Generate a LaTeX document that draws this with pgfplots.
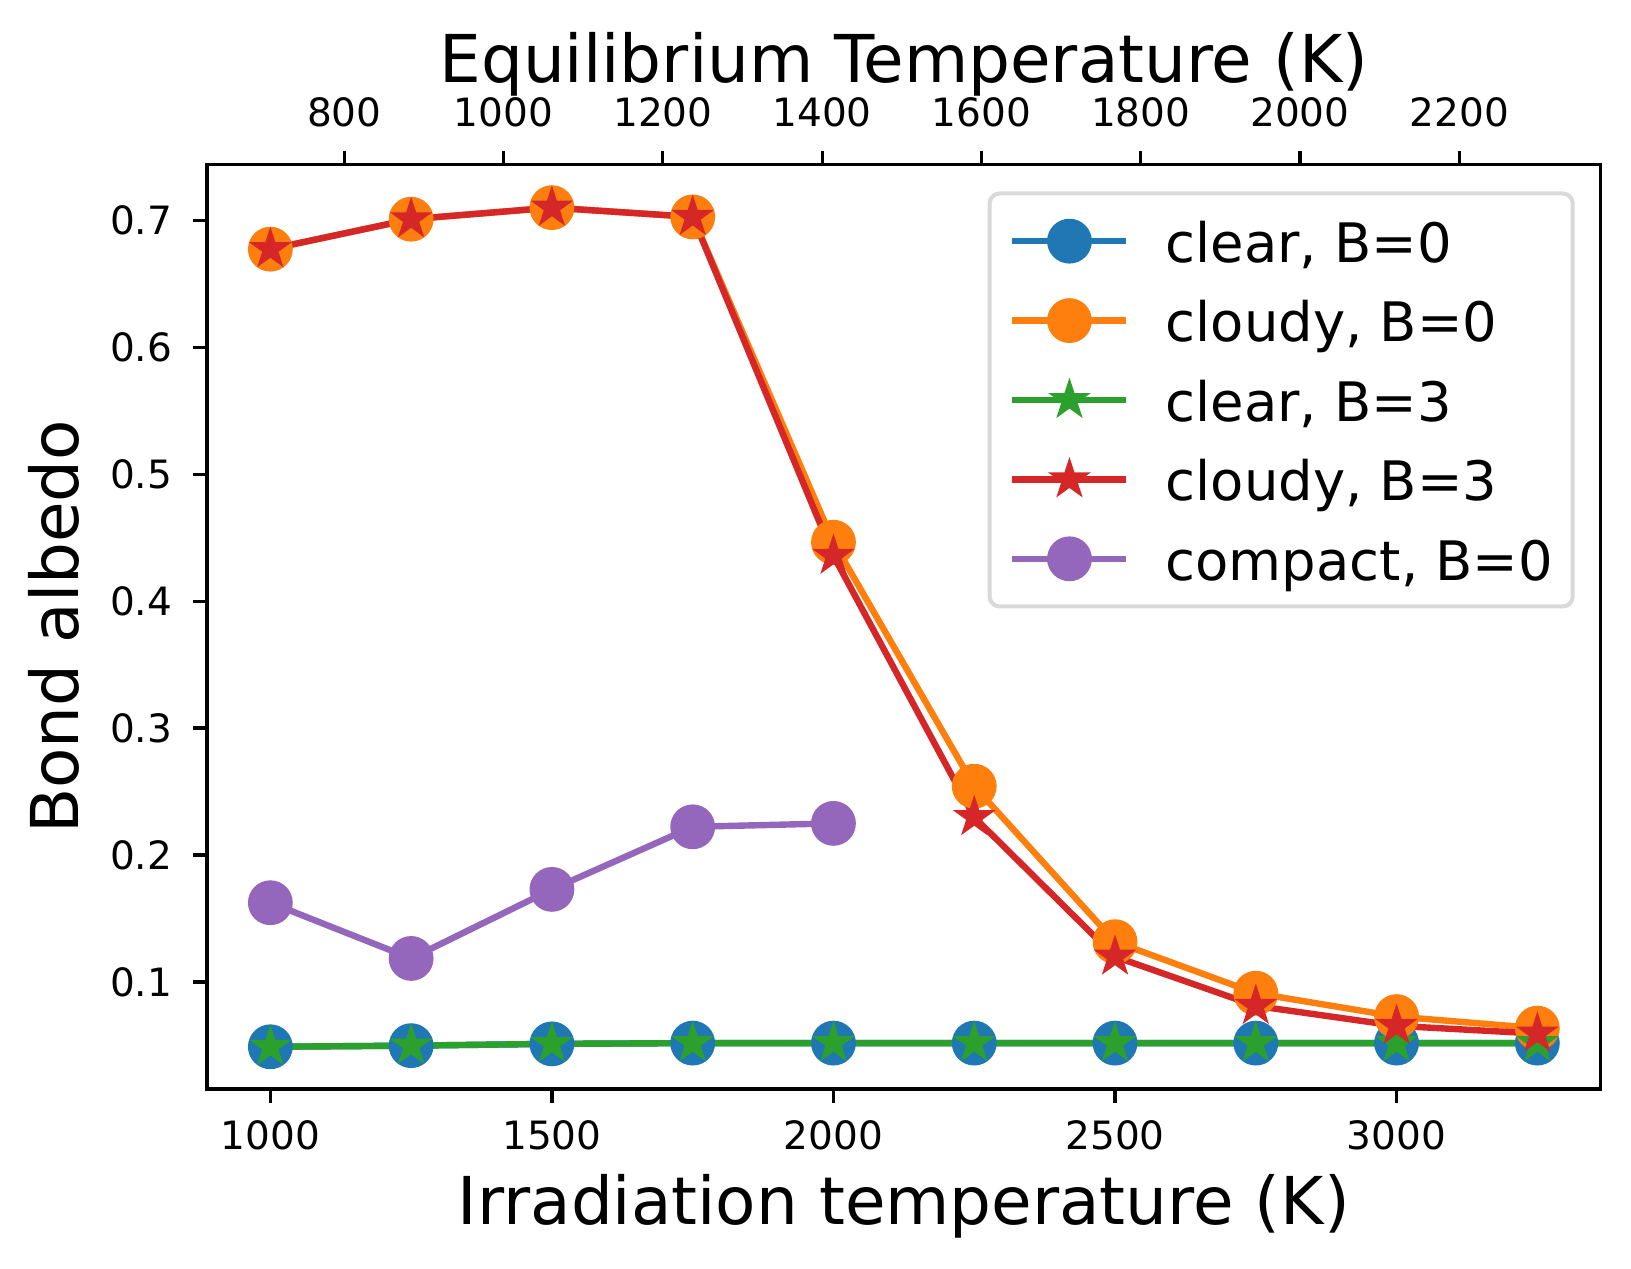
\documentclass[border=0pt]{standalone}
\usepackage{pgfplots}
\pgfplotsset{compat=1.18}
\usepackage{fontspec}
\setmainfont{DejaVu Sans}
\usetikzlibrary{plotmarks}

\definecolor{c0}{HTML}{1F77B4}
\definecolor{c1}{HTML}{FF7F0E}
\definecolor{c2}{HTML}{2CA02C}
\definecolor{c3}{HTML}{D62728}
\definecolor{c4}{HTML}{9467BD}
\definecolor{legframe}{HTML}{D9D9D9}

\newcommand\tickfont{\fontsize{9.75}{11.7}\selectfont}
\newcommand\legendfont{\fontsize{13.6}{16.3}\selectfont}
\newcommand\labelfont{\fontsize{16.5}{19.8}\selectfont}

\pgfdeclareplotmark{fstar}{%
  \pgfpathmoveto{\pgfpointpolar{90}{\pgfplotmarksize}}%
  \pgfpathlineto{\pgfpointpolar{126}{0.381966\pgfplotmarksize}}%
  \pgfpathlineto{\pgfpointpolar{162}{\pgfplotmarksize}}%
  \pgfpathlineto{\pgfpointpolar{198}{0.381966\pgfplotmarksize}}%
  \pgfpathlineto{\pgfpointpolar{234}{\pgfplotmarksize}}%
  \pgfpathlineto{\pgfpointpolar{270}{0.381966\pgfplotmarksize}}%
  \pgfpathlineto{\pgfpointpolar{306}{\pgfplotmarksize}}%
  \pgfpathlineto{\pgfpointpolar{342}{0.381966\pgfplotmarksize}}%
  \pgfpathlineto{\pgfpointpolar{18}{\pgfplotmarksize}}%
  \pgfpathlineto{\pgfpointpolar{54}{0.381966\pgfplotmarksize}}%
  \pgfpathclose
  \pgfusepathqfill
}

\pgfplotstableread{
x      clr0    cld0    clr3    cld3
1000   0.0489  0.6773  0.0489  0.6773
1250   0.0498  0.7009  0.0498  0.7009
1500   0.0512  0.7100  0.0512  0.7100
1750   0.0518  0.7027  0.0518  0.7027
2000   0.0518  0.4464  0.0518  0.4357
2250   0.0518  0.2542  0.0518  0.2298
2500   0.0518  0.1317  0.0518  0.1199
2750   0.0518  0.0911  0.0518  0.0811
3000   0.0518  0.0727  0.0518  0.0654
3250   0.0518  0.0636  0.0518  0.0593
}\maindata

\pgfplotstableread{
x      cmp0
1000   0.1624
1250   0.1185
1500   0.1729
1750   0.2222
2000   0.2249
}\compactdata

\begin{document}
\begin{tikzpicture}
\begin{axis}[
  name=main,
  width=348.4pt, height=231.1pt, scale only axis,
  xmin=887.5, xmax=3362.5, ymin=0.0157, ymax=0.7440,
  axis line style={line width=0.8pt},
  every tick/.style={black, line width=0.8pt},
  tick align=outside, major tick length=3.4pt,
  tick pos=left,
  /pgf/number format/assume math mode=true,
  scaled x ticks=false, scaled y ticks=false,
  xtick={1000,1500,2000,2500,3000},
  xticklabels={1000,1500,2000,2500,3000},
  ytick={0.1,0.2,0.3,0.4,0.5,0.6,0.7},
  yticklabels={0.1,0.2,0.3,0.4,0.5,0.6,0.7},
  xticklabel style={font=\tickfont, anchor=base, inner sep=0pt, yshift=-11.85pt},
  yticklabel style={font=\tickfont, anchor=east, inner sep=0pt, xshift=-5.1pt},
  xlabel={Irradiation temperature (K)},
  ylabel={Bond albedo},
  every axis x label/.style={at={(axis description cs:0.5,-0.147)}, anchor=base, font=\labelfont, inner sep=0pt},
  every axis y label/.style={at={(axis description cs:-0.0924,0.5)}, rotate=90, anchor=base, font=\labelfont, inner sep=0pt},
  legend cell align=left,
  legend image code/.code={\draw[sharp corners, mark repeat=2, mark phase=2, #1] plot coordinates {(0pt,0pt) (14.25pt,0pt) (28.5pt,0pt)};},
  legend style={at={(axis description cs:1,1)}, anchor=north east, xshift=-6.5pt, yshift=-6.75pt,
    draw=legframe, line width=1pt, rounded corners=2.5pt, fill=white,
    inner xsep=4.9pt, inner ysep=4.07pt, row sep=4.15pt, column sep=9pt,
    font=\legendfont, nodes={inner sep=0pt, text height=13.2pt, text depth=2.5pt}},
]
\addplot[c0, line width=1.6pt, line join=round, mark=*, mark size=5.2pt, mark options={solid, line width=0.8pt, fill=c0, draw=c0}] table[x=x, y=clr0] {\maindata};
\addlegendentry{clear, B=0}
\addplot[c1, line width=1.6pt, line join=round, mark=*, mark size=5.2pt, mark options={solid, line width=0.8pt, fill=c1, draw=c1}] table[x=x, y=cld0] {\maindata};
\addlegendentry{cloudy, B=0}
\addplot[c2, line width=1.6pt, line join=round, mark=fstar, mark size=5.6pt, mark options={solid, fill=c2}] table[x=x, y=clr3] {\maindata};
\addlegendentry{clear, B=3}
\addplot[c3, line width=1.6pt, line join=round, mark=fstar, mark size=5.6pt, mark options={solid, fill=c3}] table[x=x, y=cld3] {\maindata};
\addlegendentry{cloudy, B=3}
\addplot[c4, line width=1.6pt, line join=round, mark=*, mark size=5.2pt, mark options={solid, line width=0.8pt, fill=c4, draw=c4}] table[x=x, y=cmp0] {\compactdata};
\addlegendentry{compact, B=0}
\end{axis}
\begin{axis}[
  at={(main.south west)}, anchor=south west,
  width=348.4pt, height=231.1pt, scale only axis,
  xmin=627.56, xmax=2377.64, ymin=0, ymax=1,
  axis x line*=top, axis y line=none,
  axis line style={line width=0.8pt},
  every tick/.style={black, line width=0.8pt},
  tick align=outside, major tick length=3.4pt,
  /pgf/number format/assume math mode=true,
  scaled x ticks=false,
  xtick={800,1000,1200,1400,1600,1800,2000,2200},
  xticklabels={800,1000,1200,1400,1600,1800,2000,2200},
  xticklabel style={font=\tickfont, anchor=base, inner sep=0pt, yshift=6.0pt},
  xlabel={Equilibrium Temperature (K)},
  every axis x label/.style={at={(axis description cs:0.5,1.089)}, anchor=base, font=\labelfont, inner sep=0pt},
]
\end{axis}
\pgfresetboundingbox
\path[use as bounding box] ([xshift=-51.75pt,yshift=-45pt]main.south west) rectangle ([xshift=7.575pt,yshift=41.125pt]main.north east);
\end{tikzpicture}
\end{document}
